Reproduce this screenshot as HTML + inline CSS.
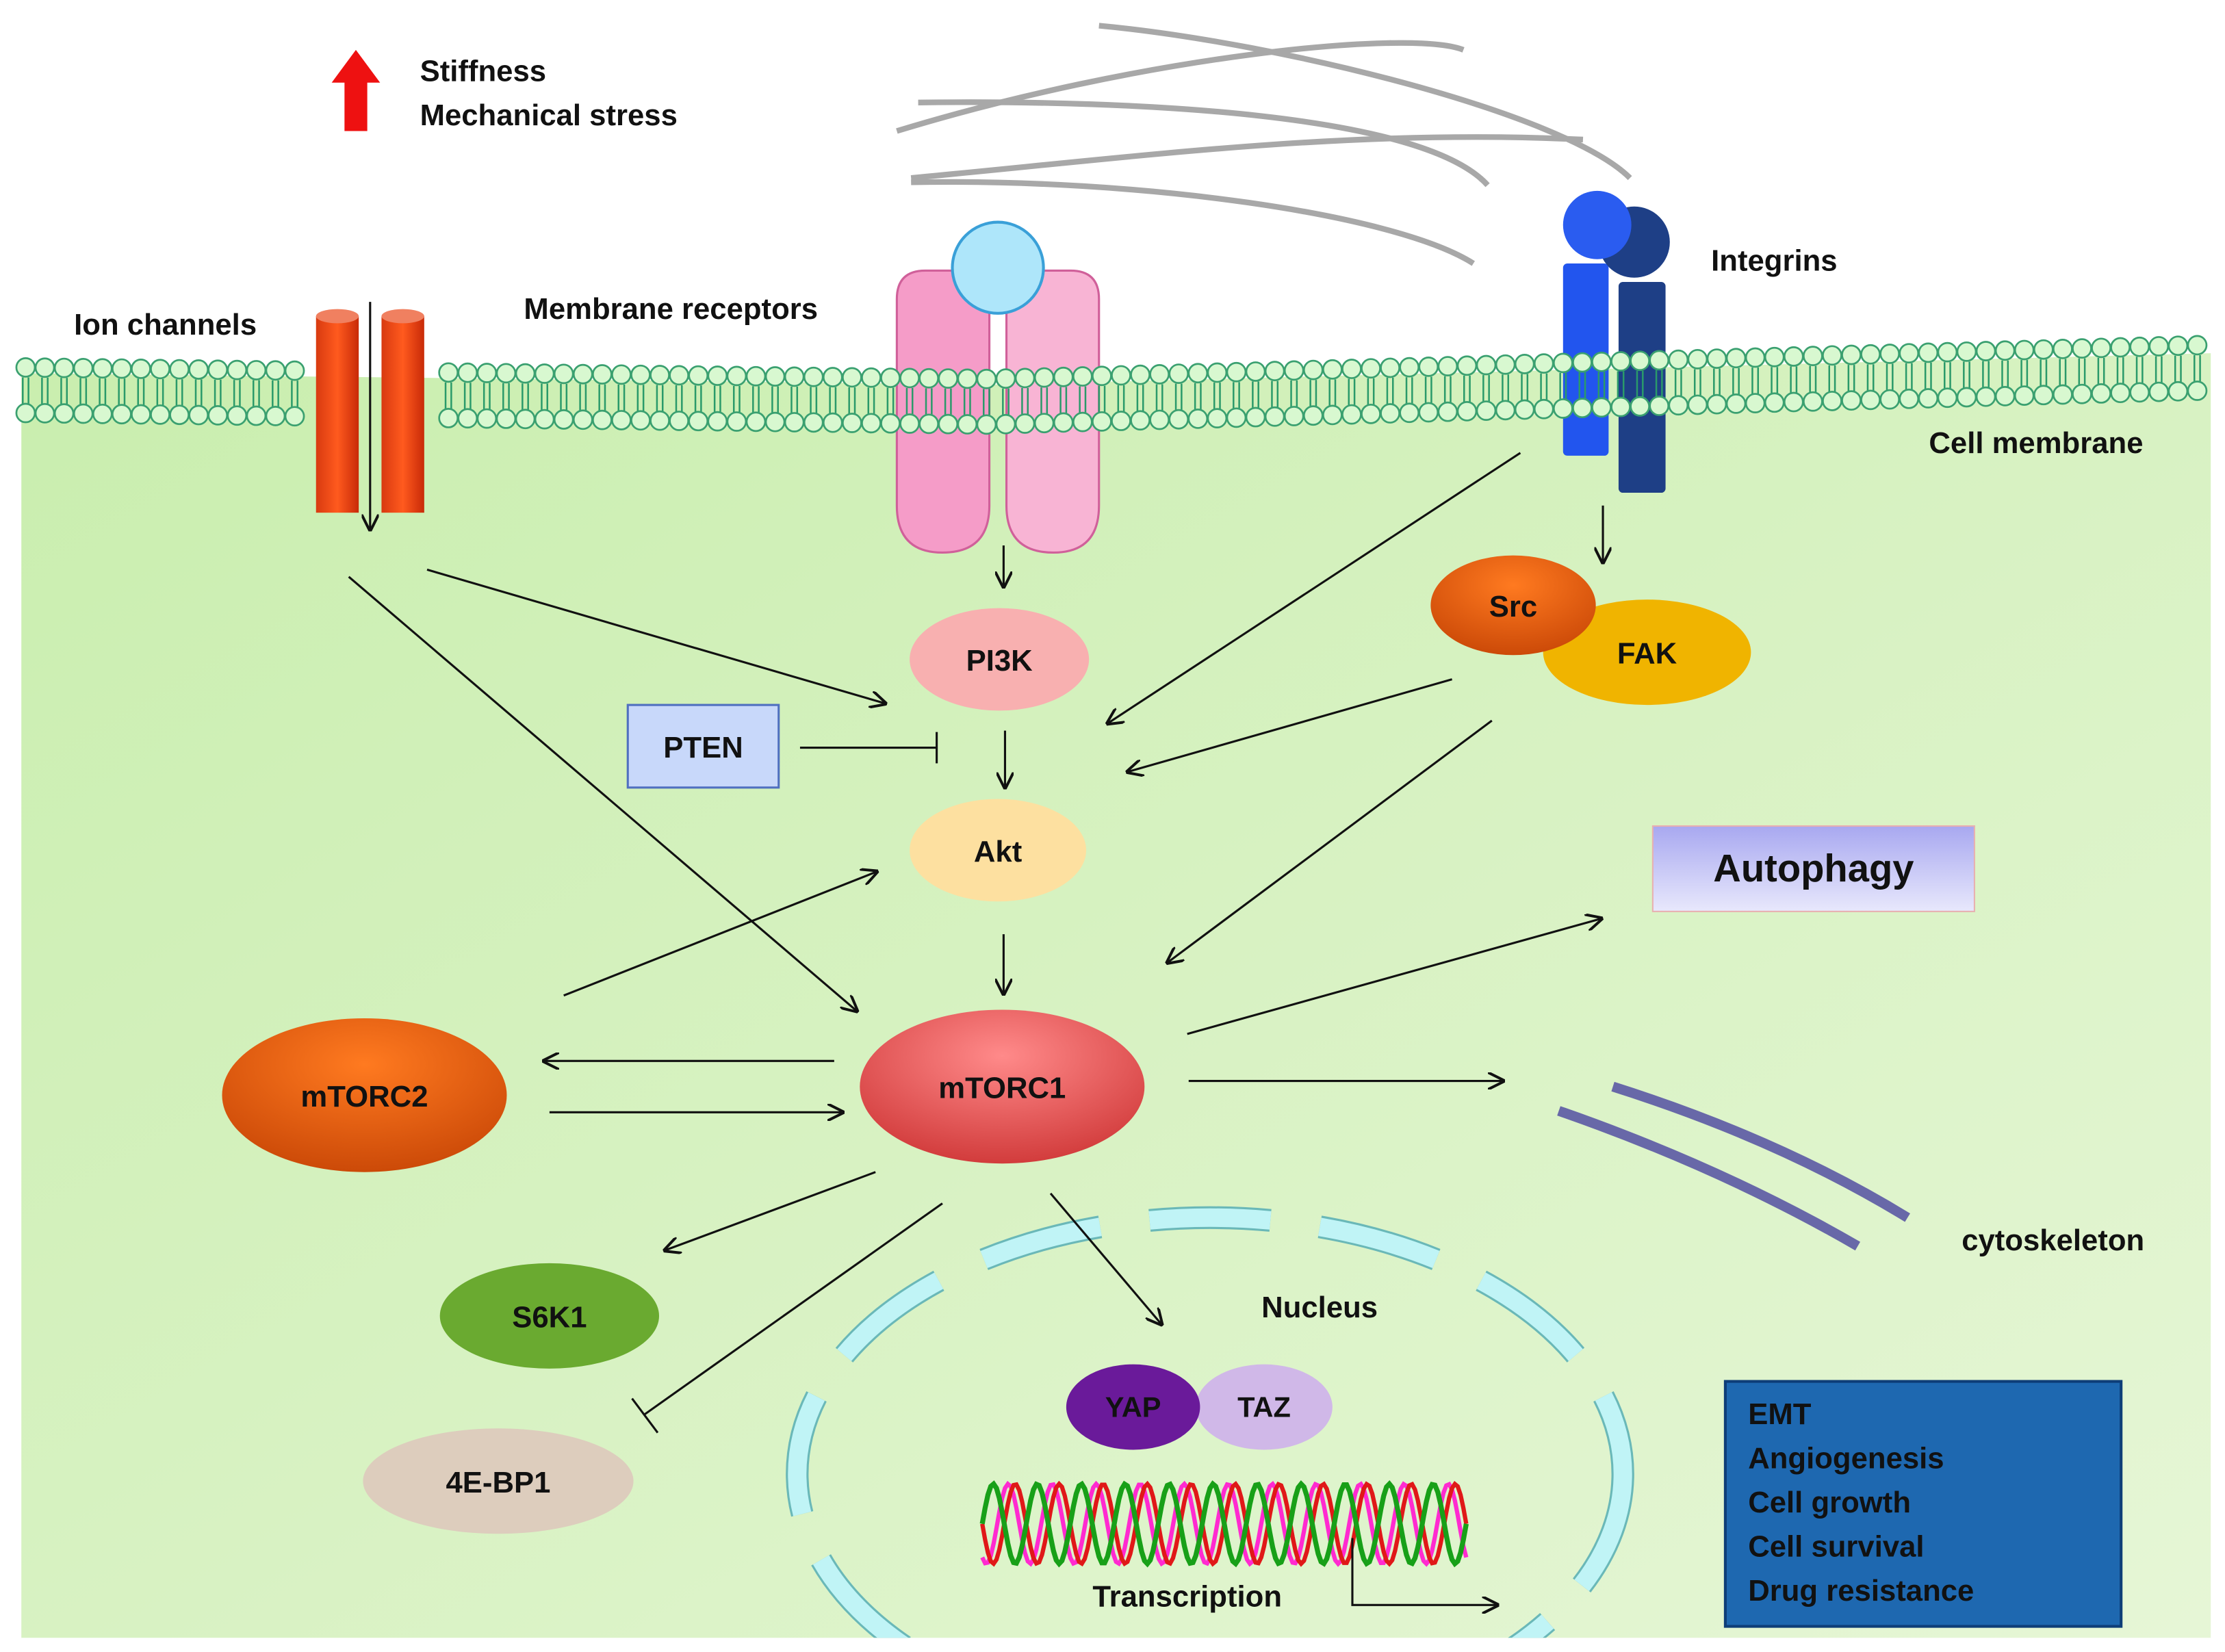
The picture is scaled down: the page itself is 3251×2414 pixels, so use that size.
<!DOCTYPE html>
<html><head><meta charset="utf-8"><style>
html,body{margin:0;padding:0;background:#fff;}
svg{display:block;width:3251px;height:2414px;}
text{font-family:"Liberation Sans",sans-serif;font-weight:bold;fill:#111;}
</style></head><body>
<svg id="s" viewBox="0 0 1563 1160" preserveAspectRatio="none" xmlns="http://www.w3.org/2000/svg">
<defs>
<linearGradient id="bg" x1="0" y1="0" x2="1" y2="1"><stop offset="0" stop-color="#c9eeae"/><stop offset="1" stop-color="#e6f6d6"/></linearGradient>
<linearGradient id="red" x1="0" x2="1"><stop offset="0" stop-color="#d83a10"/><stop offset=".5" stop-color="#ff5a1e"/><stop offset="1" stop-color="#c82a08"/></linearGradient>
<radialGradient id="g1" cx=".5" cy=".3" r=".7"><stop offset="0" stop-color="#ff8a8a"/><stop offset="1" stop-color="#d23c3c"/></radialGradient>
<radialGradient id="g2" cx=".5" cy=".3" r=".7"><stop offset="0" stop-color="#ff7a20"/><stop offset="1" stop-color="#cc4a08"/></radialGradient>
<linearGradient id="auto" x1="0" x2="0" y1="0" y2="1"><stop offset="0" stop-color="#a8a8f0"/><stop offset="1" stop-color="#e8e8fc"/></linearGradient>
<marker id="a" viewBox="0 0 10 10" refX="9" refY="5" markerWidth="8" markerHeight="8" orient="auto"><path d="M0,0 L10,5 L0,10" fill="none" stroke="#111" stroke-width="1.6"/></marker>
<clipPath id="cp"><rect x="15" y="0" width="1538" height="1150"/></clipPath>
</defs>
<path d="M15,262 L700,270 L1553,248 L1553,1150 L15,1150 Z" fill="url(#bg)"/>
<g fill="none" stroke="#a8a8a8" stroke-width="4">
<path d="M772,18 C900,30 1100,80 1145,125"/>
<path d="M630,92 C800,40 990,20 1028,35"/>
<path d="M645,72 C800,70 1000,80 1045,130"/>
<path d="M640,125 C800,110 950,90 1112,98"/>
<path d="M640,128 C800,125 980,150 1035,185"/>
</g>
<path d="M630,210 Q630,190 650,190 L695,190 L695,355 Q695,388 662,388 Q630,388 630,355 Z" fill="#f59cc8" stroke="#d0609a" stroke-width="1.5"/>
<path d="M707,190 L752,190 Q772,190 772,210 L772,355 Q772,388 740,388 Q707,388 707,355 Z" fill="#f8b4d4" stroke="#d0609a" stroke-width="1.5"/>
<circle cx="701" cy="188" r="32" fill="#aee6fa" stroke="#3aa0d8" stroke-width="2"/>
<rect x="1098" y="185" width="32" height="135" rx="3" fill="#2255ee"/>
<rect x="1137" y="198" width="33" height="148" rx="3" fill="#1e3f86"/>
<circle cx="1148" cy="170" r="25" fill="#1e3f86"/>
<circle cx="1122" cy="158" r="24" fill="#2a5cf0"/>
<g id="mem"></g>
<path d="M242,92 L242,58 L233,58 L250,35 L267,58 L258,58 L258,92 Z" fill="#ee1111"/>
<text x="295" y="57" font-size="21">Stiffness</text>
<text x="295" y="88" font-size="21">Mechanical stress</text>
<text x="52" y="235" font-size="21">Ion channels</text>
<text x="368" y="224" font-size="21">Membrane receptors</text>
<text x="1202" y="190" font-size="21">Integrins</text>
<text x="1355" y="318" font-size="21">Cell membrane</text>
<text x="1378" y="878" font-size="21">cytoskeleton</text>
<rect x="222" y="222" width="30" height="138" fill="url(#red)"/><ellipse cx="237" cy="222" rx="15" ry="5" fill="#f08060"/>
<rect x="268" y="222" width="30" height="138" fill="url(#red)"/><ellipse cx="283" cy="222" rx="15" ry="5" fill="#f08060"/>
<line x1="260" y1="212" x2="260" y2="372" stroke="#111" stroke-width="1.5" marker-end="url(#a)"/>
<ellipse cx="1157" cy="458" rx="73" ry="37" fill="#f0b400"/>
<ellipse cx="1063" cy="425" rx="58" ry="35" fill="url(#g2)"/>
<text x="1063" y="433" font-size="21" text-anchor="middle">Src</text>
<text x="1157" y="466" font-size="21" text-anchor="middle">FAK</text>
<ellipse cx="702" cy="463" rx="63" ry="36" fill="#f8b0b0"/>
<text x="702" y="471" font-size="21" text-anchor="middle">PI3K</text>
<rect x="441" y="495" width="106" height="58" fill="#c8d8fa" stroke="#5070c0" stroke-width="1.5"/>
<text x="494" y="532" font-size="21" text-anchor="middle">PTEN</text>
<ellipse cx="701" cy="597" rx="62" ry="36" fill="#fde0a0"/>
<text x="701" y="605" font-size="21" text-anchor="middle">Akt</text>
<ellipse cx="704" cy="763" rx="100" ry="54" fill="url(#g1)"/>
<text x="704" y="771" font-size="21" text-anchor="middle">mTORC1</text>
<ellipse cx="256" cy="769" rx="100" ry="54" fill="url(#g2)"/>
<text x="256" y="777" font-size="21" text-anchor="middle">mTORC2</text>
<rect x="1161" y="580" width="226" height="60" fill="url(#auto)" stroke="#e8b0b0"/>
<text x="1274" y="619" font-size="27" text-anchor="middle">Autophagy</text>
<ellipse cx="386" cy="924" rx="77" ry="37" fill="#6aaa30"/>
<text x="386" y="932" font-size="21" text-anchor="middle">S6K1</text>
<ellipse cx="350" cy="1040" rx="95" ry="37" fill="#ddcdbd"/>
<text x="350" y="1048" font-size="21" text-anchor="middle">4E-BP1</text>
<g stroke="#6868a8" stroke-width="7" fill="none">
<path d="M1133,763 Q1250,800 1340,855"/><path d="M1095,780 Q1210,820 1305,875"/></g>
<g clip-path="url(#cp)">
<ellipse cx="850" cy="1035" rx="290" ry="180" fill="none" stroke="#6ab8b8" stroke-width="16" stroke-dasharray="85 35"/>
<ellipse cx="850" cy="1035" rx="290" ry="180" fill="none" stroke="#c0f4f6" stroke-width="13" stroke-dasharray="85 35"/>
</g>
<text x="927" y="925" font-size="21" text-anchor="middle">Nucleus</text>
<ellipse cx="888" cy="988" rx="48" ry="30" fill="#d0b8e8"/>
<ellipse cx="796" cy="988" rx="47" ry="30" fill="#6a1a9a"/>
<text x="796" y="995" font-size="20" text-anchor="middle">YAP</text>
<text x="888" y="995" font-size="20" text-anchor="middle">TAZ</text>
<g id="dna"></g>
<text x="834" y="1128" font-size="21" text-anchor="middle">Transcription</text>
<path d="M950,1080 L950,1127 L1052,1127" fill="none" stroke="#111" stroke-width="1.5" marker-end="url(#a)"/>
<rect x="1212" y="970" width="278" height="172" fill="#1e68b0" stroke="#0e3e78" stroke-width="2"/>
<g font-size="21"><text x="1228" y="1000">EMT</text><text x="1228" y="1031">Angiogenesis</text><text x="1228" y="1062">Cell growth</text><text x="1228" y="1093">Cell survival</text><text x="1228" y="1124">Drug resistance</text></g>
<g stroke="#111" stroke-width="1.5" fill="none" marker-end="url(#a)">
<line x1="705" y1="383" x2="705" y2="412"/>
<line x1="706" y1="513" x2="706" y2="553"/>
<line x1="705" y1="656" x2="705" y2="698"/>
<line x1="1126" y1="355" x2="1126" y2="395"/>
<line x1="300" y1="400" x2="622" y2="494"/>
<line x1="245" y1="405" x2="602" y2="710"/>
<line x1="1068" y1="318" x2="778" y2="508"/>
<line x1="1020" y1="477" x2="792" y2="542"/>
<line x1="1048" y1="506" x2="820" y2="676"/>
<line x1="396" y1="699" x2="616" y2="612"/>
<line x1="586" y1="745" x2="382" y2="745"/>
<line x1="386" y1="781" x2="592" y2="781"/>
<line x1="834" y1="726" x2="1125" y2="645"/>
<line x1="835" y1="759" x2="1056" y2="759"/>
<line x1="615" y1="823" x2="467" y2="878"/>
<line x1="738" y1="838" x2="816" y2="930"/>
</g>
<g stroke="#111" stroke-width="1.5"><line x1="562" y1="525" x2="658" y2="525"/><line x1="658" y1="514" x2="658" y2="536"/>
<line x1="662" y1="845" x2="453" y2="993"/><line x1="444" y1="982" x2="462" y2="1006"/></g>
</svg>
<script>
var m=document.getElementById("mem"),h="";
function yTop(x){return x<700?258+ (x-18)*0.012:266-(x-700)*0.028;}
for(var x=18;x<=1553;x+=13.5){if(x>215&&x<305)continue;var y=yTop(x);
h+='<line x1="'+(x-2)+'" y1="'+(y+7)+'" x2="'+(x-2)+'" y2="'+(y+26)+'" stroke="#2a9a6a" stroke-width="1.2"/>';
h+='<line x1="'+(x+2)+'" y1="'+(y+7)+'" x2="'+(x+2)+'" y2="'+(y+26)+'" stroke="#2a9a6a" stroke-width="1.2"/>';
h+='<circle cx="'+x+'" cy="'+y+'" r="6.5" fill="#d8f8d0" stroke="#3aa070" stroke-width="1.3"/>';
h+='<circle cx="'+x+'" cy="'+(y+32)+'" r="6.5" fill="#d8f8d0" stroke="#3aa070" stroke-width="1.3"/>';}
m.innerHTML=h;
var d=document.getElementById("dna"),p1="",p2="",p3="";
for(var x=690;x<=1030;x+=2){var t=(x-690)/340*Math.PI*2*11;
p1+=(x==690?"M":"L")+x+","+(1070+28*Math.sin(t));p2+=(x==690?"M":"L")+x+","+(1070-28*Math.sin(t));p3+=(x==690?"M":"L")+x+","+(1070+28*Math.sin(t+1));}
d.innerHTML='<path d="'+p3+'" fill="none" stroke="#ff2ad0" stroke-width="3"/><path d="'+p1+'" fill="none" stroke="#e01818" stroke-width="3"/><path d="'+p2+'" fill="none" stroke="#18a018" stroke-width="3.5"/>';
</script>
</body></html>
